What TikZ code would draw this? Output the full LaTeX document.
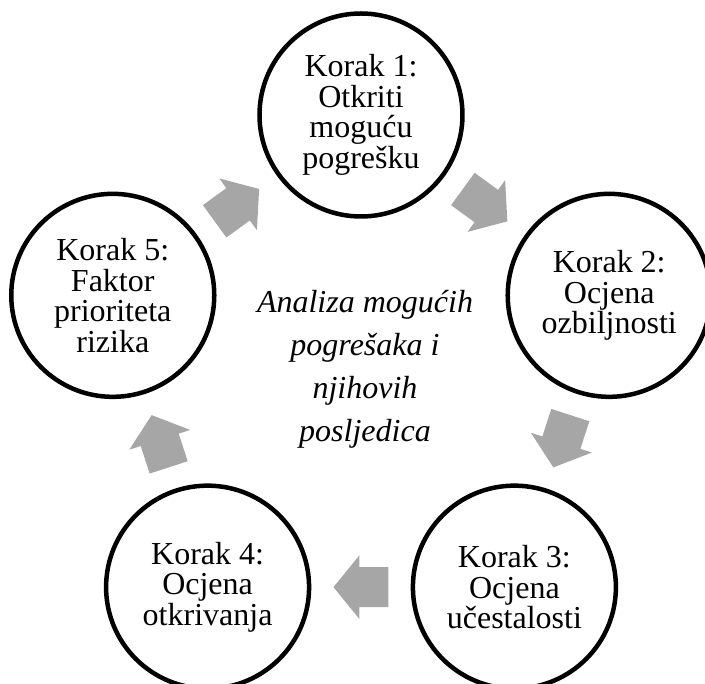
\documentclass[tikz,border=0pt]{standalone}
\usepackage{fontspec}
\setmainfont{Liberation Serif}
\usepackage{tikz}
\usetikzlibrary{calc}
\definecolor{strelica}{HTML}{A6A6A6}

\begin{document}
\begin{tikzpicture}[
    korak/.style={draw, circle, line width=4.5pt, minimum size=203pt, inner sep=0pt,
        align=center, font=\fontsize{32}{30.5}\selectfont},
    blok/.style={fill=strelica}]
  \useasboundingbox (-361pt,-308pt) rectangle (344pt,376pt);
  \foreach \i/\tekst in {1/{Korak 1:\\Otkriti\\moguću\\pogrešku},
                         2/{Korak 2:\\Ocjena\\ozbiljnosti},
                         3/{Korak 3:\\Ocjena\\učestalosti},
                         4/{Korak 4:\\Ocjena\\otkrivanja},
                         5/{Korak 5:\\Faktor\\prioriteta\\rizika}}
    \node[korak] (s\i) at ({162-72*\i}:261pt) {\tekst};
  \foreach \a/\b in {s1/s2, s2/s3, s3/s4, s4/s5, s5/s1}
    \fill[blok] let \p1=($(\b)-(\a)$), \p2=($(\a)!.5!(\b)$), \n1={atan2(\y1,\x1)} in
      [shift={(\p2)}, rotate=\n1] (27.5pt,0pt) -- (1.5pt,32pt) -- (1.5pt,20pt)
      -- (-27.5pt,20pt) -- (-27.5pt,-20pt) -- (1.5pt,-20pt) -- (1.5pt,-32pt) -- cycle;
  \node[font=\fontsize{32}{43}\selectfont\itshape, align=center] (opis) at (4pt,7pt)
      {Analiza mogućih\\pogrešaka i\\njihovih\\posljedica};
\end{tikzpicture}
\end{document}
